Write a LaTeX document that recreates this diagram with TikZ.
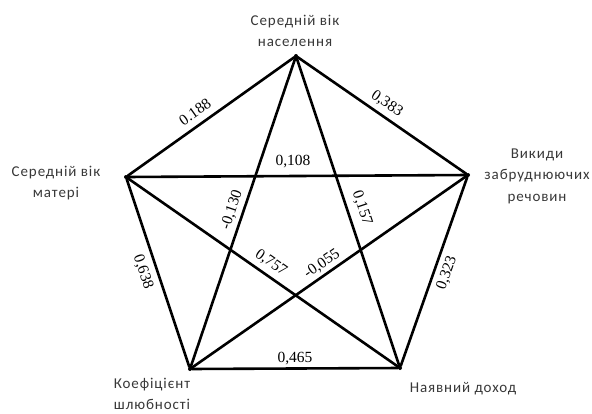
\documentclass[tikz,border=0pt]{standalone}
\usepackage{fontspec}
\setmainfont{Liberation Serif}
\newfontfamily\labfont{Carlito}[LetterSpace=6]
\begin{document}
\begin{tikzpicture}[x=1pt,y=-1pt,
  vertex/.style={circle,fill=black,inner sep=0pt,minimum size=4pt},
  edge/.style={line width=2.6pt,line cap=round,line join=round},
  val/.style={font=\fontsize{15.5}{15.5}\selectfont,inner sep=0pt},
  captext/.style={font=\labfont\fontsize{15}{21.5}\selectfont,align=center,text=black!78,inner sep=0pt}]
\useasboundingbox (0,0) rectangle (592,413);
\node[vertex] (A) at (296,56) {};
\node[vertex] (B) at (126,177) {};
\node[vertex] (C) at (468,175) {};
\node[vertex] (D) at (190,369) {};
\node[vertex] (E) at (400,368) {};
\node[captext] (tA) at (295,31) {Середній вік\\населення};
\node[captext] (tB) at (56,183) {Середній вік\\матері};
\node[captext] (tC) at (537,176) {Викиди\\забруднюючих\\речовин};
\node[captext] (tD) at (152,394) {Коефіцієнт\\шлюбності};
\node[captext] (tE) at (463,389) {Наявний доход};
\draw[edge] (B) -- (A);
\draw[edge] (A) -- (C);
\draw[edge] (B) -- (C);
\draw[edge] (D) -- (A);
\draw[edge] (A) -- (E);
\draw[edge] (B) -- (D);
\draw[edge] (E) -- (C);
\draw[edge] (B) -- (E);
\draw[edge] (D) -- (C);
\draw[edge] (D) -- (E);
\node[val,rotate=35.4] (l1) at (195,112) {0.188};
\node[val,rotate=-34.7] (l2) at (387,104) {0,383};
\node[val] (l3) at (293,162) {0,108};
\node[val,rotate=71.3] (l4) at (232,210) {-0,130};
\node[val,rotate=-71.6] (l5) at (362,208) {0,157};
\node[val,rotate=-71.6] (l6) at (143,272) {0,638};
\node[val,rotate=70.6] (l7) at (447,273) {0,323};
\node[val,rotate=-34.9] (l8) at (271,263) {0,757};
\node[val,rotate=34.9] (l9) at (322,264) {-0,055};
\node[val] (l10) at (295,359) {0,465};
\end{tikzpicture}
\end{document}
